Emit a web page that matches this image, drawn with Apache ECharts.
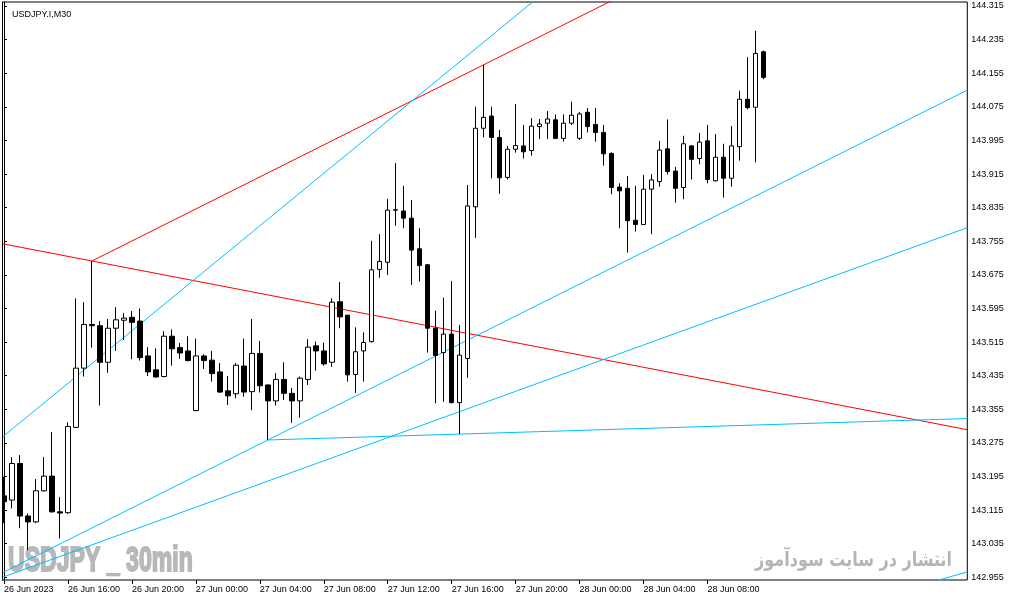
<!DOCTYPE html>
<html>
<head>
<meta charset="utf-8">
<title>USDJPY.I,M30</title>
<script src="https://cdn.jsdelivr.net/npm/echarts@6/dist/echarts.min.js"></script>
<style>
  html, body { margin: 0; padding: 0; background: #fff; }
  #chart { width: 1013px; height: 601px; }
</style>
</head>
<body>
<div id="chart"></div>
<script>
// 30 minute bars, 26 Jun 2023 12:00 .. 28 Jun 2023 11:30
const opens = [
  143.149, 143.139, 143.226, 143.101, 143.087, 143.161, 143.196, 143.111, 143.109, 143.312,
  143.453, 143.557, 143.554, 143.467, 143.548, 143.567, 143.574, 143.565, 143.482, 143.449,
  143.433, 143.529, 143.502, 143.494, 143.352, 143.482, 143.472, 143.444, 143.399, 143.392,
  143.458, 143.397, 143.488, 143.413, 143.375, 143.426, 143.393, 143.375, 143.426, 143.506,
  143.494, 143.467, 143.611, 143.579, 143.438, 143.494, 143.516, 143.688, 143.705, 143.829,
  143.827, 143.810, 143.737, 143.699, 143.548, 143.490, 143.534, 143.371, 143.476, 143.837,
  144.024, 144.053, 144.002, 143.907, 143.974, 143.982, 143.971, 144.028, 144.036, 144.044,
  144.000, 144.036, 144.000, 144.062, 144.033, 144.014, 143.964, 143.884, 143.881, 143.805,
  143.795, 143.879, 143.897, 143.975, 143.922, 143.883, 143.982, 143.952, 143.994, 143.899,
  143.955, 143.905, 143.980, 144.093, 144.074, 144.206
];
const closes = [
  143.135, 143.226, 143.101, 143.087, 143.161, 143.196, 143.111, 143.108, 143.314, 143.453,
  143.557, 143.554, 143.467, 143.548, 143.568, 143.572, 143.562, 143.478, 143.444, 143.432,
  143.529, 143.499, 143.489, 143.471, 143.482, 143.471, 143.440, 143.396, 143.387, 143.460,
  143.396, 143.488, 143.411, 143.375, 143.426, 143.393, 143.375, 143.429, 143.503, 143.494,
  143.463, 143.610, 143.575, 143.437, 143.492, 143.514, 143.687, 143.707, 143.829, 143.830,
  143.810, 143.734, 143.697, 143.548, 143.483, 143.534, 143.371, 143.484, 143.839, 144.024,
  144.050, 144.002, 143.906, 143.974, 143.983, 143.968, 144.029, 144.034, 144.046, 144.000,
  144.036, 144.055, 144.058, 144.028, 144.014, 143.963, 143.883, 143.875, 143.804, 143.795,
  143.879, 143.901, 143.972, 143.921, 143.881, 143.987, 143.950, 143.991, 143.902, 143.955,
  143.905, 143.982, 144.093, 144.073, 144.202, 144.145
];
const lows = [
  143.084, 143.119, 143.072, 143.020, 143.084, 143.159, 143.109, 143.048, 143.106, 143.310,
  143.433, 143.502, 143.364, 143.442, 143.494, 143.520, 143.474, 143.471, 143.434, 143.430,
  143.431, 143.459, 143.475, 143.469, 143.350, 143.451, 143.421, 143.394, 143.365, 143.381,
  143.385, 143.353, 143.395, 143.282, 143.364, 143.377, 143.323, 143.335, 143.413, 143.447,
  143.459, 143.456, 143.548, 143.421, 143.394, 143.421, 143.514, 143.668, 143.675, 143.792,
  143.786, 143.651, 143.659, 143.490, 143.369, 143.373, 143.369, 143.296, 143.430, 143.763,
  144.002, 143.905, 143.868, 143.902, 143.966, 143.952, 143.959, 143.998, 143.998, 143.998,
  143.992, 144.032, 143.996, 144.014, 143.992, 143.935, 143.867, 143.786, 143.728, 143.778,
  143.794, 143.772, 143.885, 143.914, 143.847, 143.855, 143.902, 143.938, 143.893, 143.897,
  143.859, 143.885, 143.947, 144.069, 143.943, 144.141
];
const highs = [
  143.195, 143.241, 143.246, 143.107, 143.189, 143.241, 143.301, 143.146, 143.324, 143.619,
  143.610, 143.708, 143.565, 143.570, 143.598, 143.584, 143.589, 143.595, 143.503, 143.500,
  143.541, 143.545, 143.513, 143.529, 143.523, 143.486, 143.494, 143.465, 143.434, 143.465,
  143.523, 143.570, 143.518, 143.414, 143.441, 143.467, 143.406, 143.433, 143.522, 143.516,
  143.514, 143.619, 143.658, 143.580, 143.550, 143.538, 143.756, 143.772, 143.856, 143.941,
  143.887, 143.853, 143.786, 143.701, 143.590, 143.621, 143.660, 143.556, 143.889, 144.075,
  144.175, 144.075, 144.020, 143.982, 144.082, 144.032, 144.048, 144.046, 144.065, 144.057,
  144.057, 144.087, 144.063, 144.072, 144.072, 144.032, 143.967, 143.893, 143.910, 143.887,
  143.913, 143.915, 143.994, 144.045, 143.932, 144.006, 143.984, 144.013, 144.032, 144.010,
  143.987, 144.029, 144.113, 144.193, 144.256, 144.209
];

const tickLabels = [
  '26 Jun 2023', '26 Jun 16:00', '26 Jun 20:00', '27 Jun 00:00', '27 Jun 04:00', '27 Jun 08:00',
  '27 Jun 12:00', '27 Jun 16:00', '27 Jun 20:00', '28 Jun 00:00', '28 Jun 04:00', '28 Jun 08:00'
];
const priceTicks = [
  142.955, 143.035, 143.115, 143.195, 143.275, 143.355, 143.435, 143.515, 143.595,
  143.675, 143.755, 143.835, 143.915, 143.995, 144.075, 144.155, 144.235, 144.315
];

// trend lines: two anchor points [bar index, price]
const redRay   = [[11, 143.708], [60, 144.175]];
const redLine  = [[11, 143.708], [95, 143.400]];
const cyanC    = [[0, 143.292], [60, 144.229]];
const cyanD    = [[33, 143.282], [120, 144.110]];
const cyanE    = [[0, 142.9565], [120, 143.784]];
const cyanRay  = [[33, 143.282], [57, 143.296]];
const cyanG    = [[117, 142.949], [120.5, 142.968]];

const SLOTS = 121;          // bars + empty space on the right
const X_MIN = -0.5, X_MAX = SLOTS - 0.5;
const Y_MIN = 142.9487, Y_MAX = 144.3245;

const categories = [];
const t0 = Date.UTC(2023, 5, 26, 12, 0);
for (let i = 0; i < SLOTS; i++) {
  const d = new Date(t0 + i * 30 * 60000);
  categories.push(d.toISOString().slice(0, 16).replace('T', ' '));
}

const candles = opens.map((o, i) => [o, closes[i], lows[i], highs[i]]);

function extend(pts, ray) {
  const [p1, p2] = pts;
  const m = (p2[1] - p1[1]) / (p2[0] - p1[0]);
  const x0 = ray ? p1[0] : X_MIN;
  return [[x0, p1[1] + m * (x0 - p1[0])], [X_MAX, p1[1] + m * (X_MAX - p1[0])]];
}

function trend(pts, ray, color) {
  return {
    type: 'line', xAxisIndex: 1, yAxisIndex: 0,
    data: extend(pts, ray), symbol: 'none', clip: true, silent: true,
    lineStyle: { color: color, width: 1 }, z: 3
  };
}

const RED = '#ff0000', CYAN = '#00bfff';
const font = 'Liberation Sans';

const chart = echarts.init(document.getElementById('chart'));
chart.setOption({
  animation: false,
  backgroundColor: '#fff',
  title: {
    text: 'USDJPY.I,M30', left: 7, top: 5,
    textStyle: { fontFamily: font, fontSize: 9, fontWeight: 'normal', color: '#000' }
  },
  grid: {
    left: -0.7, right: 45.7, top: 2, bottom: 21,
    show: true, borderColor: '#000', borderWidth: 1, backgroundColor: 'transparent'
  },
  xAxis: [{
    type: 'category', data: categories, boundaryGap: true,
    axisLine: { show: false },
    axisTick: {
      show: true, alignWithLabel: true, length: 4,
      interval: (i) => i % 8 === 0 && i / 8 < tickLabels.length,
      lineStyle: { color: '#000' }
    },
    axisLabel: {
      interval: (i) => i % 8 === 0 && i / 8 < tickLabels.length,
      formatter: (v, i) => tickLabels[i / 8] || '',
      align: 'left', margin: 5, fontFamily: font, fontSize: 9, color: '#000'
    },
    splitLine: { show: false }
  }, {
    type: 'value', min: X_MIN, max: X_MAX, show: false
  }],
  yAxis: {
    type: 'value', position: 'right', min: Y_MIN, max: Y_MAX,
    splitLine: { show: false },
    axisLine: { show: true, lineStyle: { color: '#000' } },
    axisTick: { show: true, length: 3, customValues: priceTicks, lineStyle: { color: '#000' } },
    axisLabel: {
      customValues: priceTicks, formatter: (v) => v.toFixed(3),
      margin: 4, fontFamily: font, fontSize: 9, color: '#000'
    }
  },
  graphic: [
    { type: 'rect', left: 0, top: 0, shape: { width: 2, height: 581 }, style: { fill: '#fff' }, z: 50 },
    { type: 'line', shape: { x1: 2.5, y1: 2, x2: 2.5, y2: 580.5 }, style: { stroke: '#000', lineWidth: 1 }, z: 51 },
    {
      type: 'text', x: 8, y: 561, scaleX: 0.66, z: 0,
      style: {
        text: 'USDJPY _ 30min', font: 'bold 35px "Liberation Sans"', fill: '#b8b8b8',
        stroke: '#b8b8b8', lineWidth: 2,
        align: 'left', verticalAlign: 'middle', textAlign: 'left', textVerticalAlign: 'middle'
      }
    },
    {
      type: 'text', x: 952, y: 561, scaleX: 0.8, z: 0,
      style: {
        text: 'انتشار در سایت سودآموز', font: 'bold 20px "DejaVu Sans"', fill: '#b5b5b5',
        align: 'right', verticalAlign: 'middle', textAlign: 'right', textVerticalAlign: 'middle'
      }
    }
  ],
  series: [
    trend(redRay, true, RED),
    trend(redLine, false, RED),
    trend(cyanC, false, CYAN),
    trend(cyanD, false, CYAN),
    trend(cyanE, false, CYAN),
    trend(cyanRay, true, CYAN),
    trend(cyanG, false, CYAN),
    {
      type: 'candlestick', xAxisIndex: 0, yAxisIndex: 0,
      data: candles, barWidth: 5, z: 4,
      itemStyle: {
        color: '#fff', color0: '#000',
        borderColor: '#000', borderColor0: '#000', borderWidth: 1
      }
    }
  ]
});
</script>
</body>
</html>
